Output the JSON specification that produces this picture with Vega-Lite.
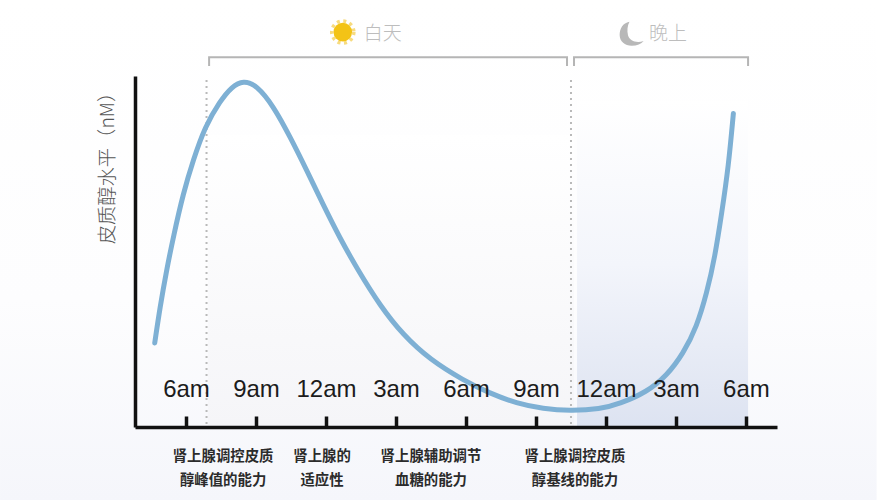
{
  "$schema": "https://vega.github.io/schema/vega-lite/v6.json",
  "width": 642,
  "height": 351,
  "autosize": "none",
  "padding": {"left": 135, "top": 76, "right": 100, "bottom": 73},
  "background": "white",
  "datasets": {
    "cortisol": [
      {"hour": -1.34, "level": 24.5}, {"hour": -1.11, "level": 35.1}, {"hour": -0.83, "level": 45.8},
      {"hour": -0.54, "level": 55.5}, {"hour": -0.12, "level": 68.1}, {"hour": 0.31, "level": 77.8},
      {"hour": 0.81, "level": 87.5}, {"hour": 1.46, "level": 95.0}, {"hour": 1.96, "level": 99.2},
      {"hour": 2.46, "level": 101.0}, {"hour": 3.03, "level": 99.6}, {"hour": 3.74, "level": 93.6},
      {"hour": 4.46, "level": 84.6}, {"hour": 5.17, "level": 74.9}, {"hour": 5.89, "level": 64.6},
      {"hour": 6.6, "level": 55.0}, {"hour": 7.32, "level": 46.3}, {"hour": 8.32, "level": 35.3},
      {"hour": 9.31, "level": 26.8}, {"hour": 10.46, "level": 19.6}, {"hour": 11.89, "level": 13.6},
      {"hour": 13.03, "level": 9.8}, {"hour": 14.17, "level": 6.9}, {"hour": 15.31, "level": 5.3},
      {"hour": 16.46, "level": 4.7}, {"hour": 17.75, "level": 5.2}, {"hour": 18.6, "level": 6.8},
      {"hour": 19.75, "level": 10.2}, {"hour": 20.6, "level": 14.9}, {"hour": 21.32, "level": 21.5},
      {"hour": 21.89, "level": 29.2}, {"hour": 22.32, "level": 39.0}, {"hour": 22.67, "level": 49.6},
      {"hour": 22.96, "level": 62.3}, {"hour": 23.25, "level": 75.9}, {"hour": 23.46, "level": 91.4}
    ],
    "brackets": [
      {"part": "day", "seq": 1, "hour": 0.99, "level": 105.2},
      {"part": "day", "seq": 2, "hour": 0.99, "level": 107.8},
      {"part": "day", "seq": 3, "hour": 16.33, "level": 107.8},
      {"part": "day", "seq": 4, "hour": 16.33, "level": 105.2},
      {"part": "night", "seq": 1, "hour": 16.63, "level": 105.2},
      {"part": "night", "seq": 2, "hour": 16.63, "level": 107.8},
      {"part": "night", "seq": 3, "hour": 24.09, "level": 107.8},
      {"part": "night", "seq": 4, "hour": 24.09, "level": 105.2}
    ],
    "notes": [
      {"hour": 1.59, "level": -8.75, "text": "肾上腺调控皮质"},
      {"hour": 1.59, "level": -15.75, "text": "醇峰值的能力"},
      {"hour": 5.83, "level": -8.75, "text": "肾上腺的"},
      {"hour": 5.83, "level": -15.75, "text": "适应性"},
      {"hour": 10.5, "level": -8.75, "text": "肾上腺辅助调节"},
      {"hour": 10.5, "level": -15.75, "text": "血糖的能力"},
      {"hour": 16.67, "level": -8.75, "text": "肾上腺调控皮质"},
      {"hour": 16.67, "level": -15.75, "text": "醇基线的能力"}
    ]
  },
  "encoding": {
    "x": {
      "field": "hour",
      "type": "quantitative",
      "scale": {"domain": [-2.186, 25.33], "nice": false, "zero": false},
      "axis": {
        "title": null,
        "values": [0, 3, 6, 9, 12, 15, 18, 21, 24],
        "labelExpr": "['6am','9am','12am','3am','6am','9am','12am','3am','6am'][datum.value/3]",
        "grid": false,
        "zindex": 1,
        "domainColor": "#111111",
        "domainWidth": 3.5,
        "tickColor": "#111111",
        "tickWidth": 3.5,
        "tickSize": -11,
        "labelPadding": -27,
        "labelBaseline": "middle",
        "labelFont": "Liberation Sans",
        "labelFontSize": 24,
        "labelColor": "#1c1c1c",
        "labelFlush": false,
        "labelOverlap": false
      }
    },
    "y": {
      "field": "level",
      "type": "quantitative",
      "scale": {"domain": [0, 102.3], "nice": false, "zero": false},
      "axis": {
        "title": "皮质醇水平（nM）",
        "titleFont": "Noto Sans CJK SC",
        "titleFontSize": 19.3,
        "titleFontWeight": 300,
        "titleColor": "#555555",
        "titleX": -18,
        "titleY": 87,
        "grid": false,
        "ticks": false,
        "labels": false,
        "zindex": 1,
        "domainColor": "#111111",
        "domainWidth": 3.5
      }
    }
  },
  "layer": [
    {
      "data": {"values": [{"hour": -7.97, "hour2": 29.6, "level": 124.5, "level2": -21.3}]},
      "mark": {"type": "rect", "color": {"gradient": "linear", "x1": 0, "y1": 0, "x2": 0, "y2": 1, "stops": [{"offset": 0, "color": "#ffffff"}, {"offset": 0.6, "color": "#fdfdfe"}, {"offset": 1, "color": "#f5f6fb"}]}},
      "encoding": {"x2": {"field": "hour2"}, "y2": {"field": "level2"}}
    },
    {
      "data": {"values": [{"hour": 0.94, "hour2": 16.63, "level": 85, "level2": 0}]},
      "mark": {"type": "rect", "color": {"gradient": "linear", "x1": 0, "y1": 0, "x2": 0, "y2": 1, "stops": [{"offset": 0, "color": "#ffffff"}, {"offset": 1, "color": "#f5f5f8"}]}},
      "encoding": {"x2": {"field": "hour2"}, "y2": {"field": "level2"}}
    },
    {
      "data": {"values": [{"hour": 16.76, "hour2": 24.09, "level": 95, "level2": 0}]},
      "mark": {"type": "rect", "color": {"gradient": "linear", "x1": 0, "y1": 0, "x2": 0, "y2": 1, "stops": [{"offset": 0, "color": "#ffffff"}, {"offset": 0.5, "color": "#f3f5fb"}, {"offset": 1, "color": "#dde3f1"}]}},
      "encoding": {"x2": {"field": "hour2"}, "y2": {"field": "level2"}}
    },
    {
      "data": {"values": [{"hour": 0.88, "level": 101.1, "level2": 0}, {"hour": 16.5, "level": 101.1, "level2": 0}]},
      "mark": {"type": "rule", "color": "#b9b9b9", "strokeWidth": 2, "strokeDash": [2, 4]},
      "encoding": {"y2": {"field": "level2"}}
    },
    {
      "data": {"name": "brackets"},
      "mark": {"type": "line", "color": "#b5b5b5", "strokeWidth": 2},
      "encoding": {"detail": {"field": "part"}, "order": {"field": "seq"}}
    },
    {
      "data": {"name": "cortisol"},
      "mark": {"type": "line", "color": "#7eb0d4", "strokeWidth": 5, "strokeCap": "round", "interpolate": "basis"}
    },
    {
      "data": {"values": [{"hour": 6.72, "level": 115.1}]},
      "mark": {"type": "point", "shape": "circle", "filled": false, "size": 490, "stroke": "#f5cd4a", "strokeWidth": 3.5, "strokeDash": [3, 3.54]}
    },
    {
      "data": {"values": [{"hour": 6.72, "level": 115.1}]},
      "mark": {"type": "point", "shape": "circle", "filled": true, "size": 346, "color": "#f3c316", "opacity": 1}
    },
    {
      "data": {"values": [{"hour": 19.1, "level": 114.6}]},
      "mark": {"type": "point", "filled": true, "size": 576, "color": "#b8b8b8", "opacity": 1, "shape": "M-0.18,-1 C-0.75,-0.9 -1,-0.4 -1,0.1 C-1,0.65 -0.55,1 0,1 C0.45,1 0.8,0.85 1,0.6 C0.4,0.8 -0.15,0.6 -0.3,0.15 C-0.4,-0.25 -0.35,-0.7 -0.18,-1 Z"}
    },
    {
      "data": {"values": [{"hour": 8.43, "level": 114.6, "text": "白天"}, {"hour": 20.66, "level": 114.6, "text": "晚上"}]},
      "mark": {"type": "text", "font": "Noto Sans CJK SC", "fontSize": 19, "fontWeight": 300, "color": "#bdbdbd", "align": "center", "baseline": "middle"},
      "encoding": {"text": {"field": "text"}}
    },
    {
      "data": {"name": "notes"},
      "mark": {"type": "text", "font": "Noto Sans CJK SC", "fontSize": 14.4, "fontWeight": 700, "color": "#2b2b2b", "align": "center", "baseline": "middle"},
      "encoding": {"text": {"field": "text"}}
    }
  ]
}
